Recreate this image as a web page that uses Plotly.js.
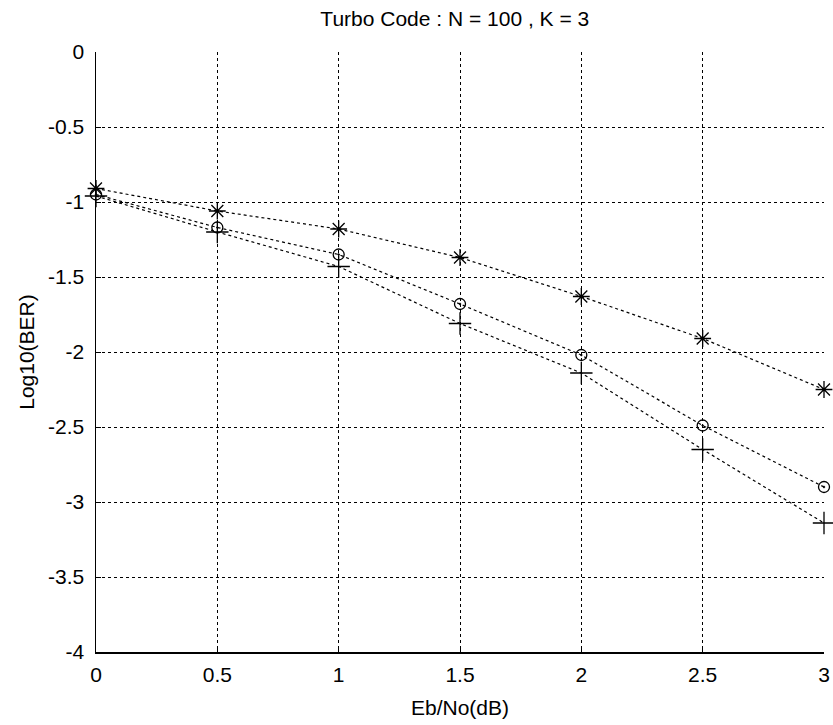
<!DOCTYPE html>
<html>
<head>
<meta charset="utf-8">
<script src="https://cdn.plot.ly/plotly-3.0.1.min.js"></script>
<style>html,body{margin:0;padding:0;background:#fff;}#chart{width:833px;height:725px;}</style>
</head>
<body>
<div id="chart"></div>
<script>
const ebno = [0, 0.5, 1, 1.5, 2, 2.5, 3];
const berStar = [-0.91, -1.06, -1.18, -1.37, -1.63, -1.91, -2.25];
const berCircle = [-0.95, -1.17, -1.35, -1.68, -2.02, -2.49, -2.90];
const berPlus = [-0.96, -1.20, -1.43, -1.81, -2.14, -2.65, -3.14];
const xTicks = [0, 0.5, 1, 1.5, 2, 2.5, 3];
const xTickText = ['0', '0.5', '1', '1.5', '2', '2.5', '3'];
const yTicks = [0, -0.5, -1, -1.5, -2, -2.5, -3, -3.5, -4];
const yTickText = ['0', '-0.5', '-1', '-1.5', '-2', '-2.5', '-3', '-3.5', '-4'];

const font = 'Liberation Sans, Arial, sans-serif';
const fs = 21;
function tr(y, sym, size) {
  return {
    x: ebno, y: y, type: 'scatter', mode: 'lines+markers', cliponaxis: false,
    line: {color: '#000', width: 1.2, dash: 'dot'},
    marker: {symbol: sym, size: size, color: '#000', line: {color: '#000', width: 1.3}}
  };
}
const data = [
  tr(berStar, 'asterisk-open', 14),
  tr(berCircle, 'circle-open-dot', 11),
  tr(berPlus, 'cross-thin-open', 16)
];
const layout = {
  width: 833, height: 725,
  margin: {l: 96, r: 9, t: 52, b: 73},
  paper_bgcolor: '#fff', plot_bgcolor: '#fff',
  showlegend: false,
  font: {family: font, color: '#000', size: fs},
  title: {text: 'Turbo Code : N = 100 , K = 3', font: {family: font, size: fs, color: '#000'},
          x: 0.546, xanchor: 'center', y: 1 - 19/725, yanchor: 'middle', yref: 'container'},
  xaxis: {
    range: [0, 3], tickvals: xTicks, ticktext: xTickText,
    showgrid: true, gridcolor: '#000', griddash: 'dot', gridwidth: 1,
    zeroline: false, showline: true, linecolor: '#000', linewidth: 1.5, mirror: false,
    ticks: 'inside', ticklen: 5, tickcolor: '#000', ticklabelstandoff: 3,
    tickfont: {family: font, size: fs, color: '#000'},
    title: {text: 'Eb/No(dB)', font: {family: font, size: fs, color: '#000'}, standoff: 15}
  },
  yaxis: {
    range: [-4, 0], tickvals: yTicks, ticktext: yTickText,
    showgrid: true, gridcolor: '#000', griddash: 'dot', gridwidth: 1,
    zeroline: false, showline: true, linecolor: '#000', linewidth: 1.5, mirror: false,
    ticks: 'inside', ticklen: 5, tickcolor: '#000', ticklabelstandoff: 6,
    tickfont: {family: font, size: fs, color: '#000'},
    title: {text: 'Log10(BER)', font: {family: font, size: fs, color: '#000'}, standoff: 8}
  }
};
Plotly.newPlot('chart', data, layout, {staticPlot: true});
</script>
</body>
</html>
